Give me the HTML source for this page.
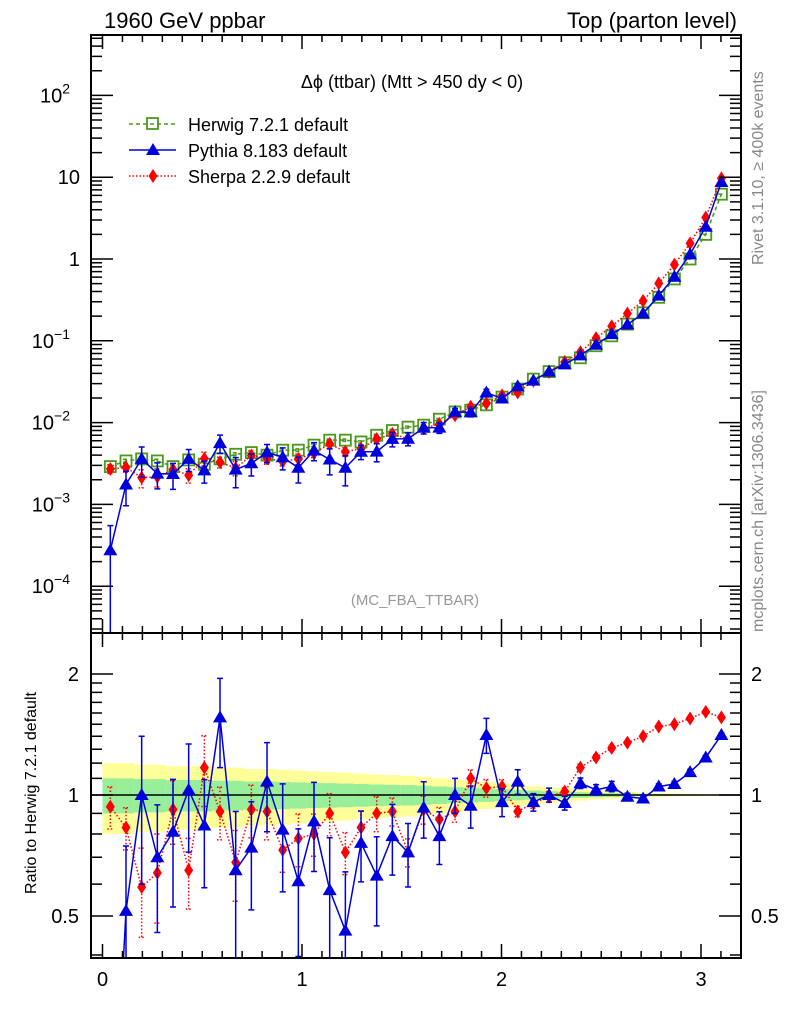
<!DOCTYPE html>
<html><head><meta charset="utf-8"><style>
html,body{margin:0;padding:0;background:#fff;width:786px;height:1024px;overflow:hidden;}
svg{display:block;font-family:"Liberation Sans",Arial,sans-serif;}
</style></head><body>
<svg id="chart" width="786" height="1024" viewBox="0 0 786 1024" xmlns="http://www.w3.org/2000/svg">
<g id="bands"></g>
<g id="marks"></g>
<g id="axes"></g>
<text x="104" y="28" font-size="22">1960 GeV ppbar</text>
<text x="737" y="28" font-size="22" text-anchor="end">Top (parton level)</text>
<text x="412" y="88" font-size="18" text-anchor="middle">Δϕ (ttbar) (Mtt &gt; 450 dy &lt; 0)</text>
<text x="415" y="605" font-size="15" fill="#999" text-anchor="middle">(MC_FBA_TTBAR)</text>
<text font-size="16" fill="#888" transform="translate(763,265) rotate(-90)">Rivet 3.1.10, ≥ 400k events</text>
<text font-size="16" fill="#888" transform="translate(763,632) rotate(-90)">mcplots.cern.ch [arXiv:1306.3436]</text>
<text font-size="16" text-anchor="middle" transform="translate(36,793) rotate(-90)">Ratio to Herwig 7.2.1 default</text>
<g>
 <g>
  <line x1="129" y1="124" x2="176" y2="124" stroke="#4a9a1a" stroke-width="1.5" stroke-dasharray="4,3"/>
  <rect x="147" y="118" width="11" height="11" fill="none" stroke="#4a9a1a" stroke-width="1.8"/>
  <text x="188" y="131" font-size="18">Herwig 7.2.1 default</text>
 </g>
 <g>
  <line x1="129" y1="150" x2="176" y2="150" stroke="#0000dd" stroke-width="1.5"/>
  <polygon points="153,143 160,155 146,155" fill="#0000dd"/>
  <text x="188" y="157" font-size="18">Pythia 8.183 default</text>
 </g>
 <g>
  <line x1="129" y1="176" x2="176" y2="176" stroke="#ff0000" stroke-width="1.5" stroke-dasharray="1.5,2"/>
  <polygon points="153,169 157.5,176 153,183 148.5,176" fill="#ff0000"/>
  <text x="188" y="183" font-size="18">Sherpa 2.2.9 default</text>
 </g>
</g>
</svg>
<script>
const herwig = [0.0029,0.0034,0.0036,0.0034,0.0029,0.0035,0.0031,0.0036,0.0041,0.0043,0.0040,0.0046,0.0046,0.0053,0.0061,0.0061,0.0058,0.0070,0.0080,0.0088,0.0093,0.011,0.0135,0.0142,0.0165,0.0205,0.0257,0.034,0.042,0.054,0.062,0.087,0.115,0.16,0.22,0.34,0.57,1.0,2.0,6.2];
const herwigRelErr = [0.10,0.10,0.095,0.095,0.09,0.09,0.09,0.085,0.085,0.08,0.08,0.078,0.075,0.072,0.07,0.068,0.065,0.062,0.06,0.058,0.055,0.05,0.046,0.042,0.038,0.034,0.03,0.026,0.022,0.019,0.016,0.013,0.011,0.009,0.007,0.005,0.004,0.003,0.002,0.002];
const pythiaRatio = [0.095,0.515,1.0,0.70,0.81,1.03,0.84,1.56,0.65,0.74,1.08,0.82,0.61,0.86,0.58,0.46,0.76,0.63,0.79,0.72,0.93,0.79,1.0,0.94,1.41,0.96,1.08,0.96,1.0,0.955,1.07,1.03,1.05,0.99,0.98,1.05,1.065,1.14,1.24,1.41];
const pythiaRelErr = [1.0,0.45,0.4,0.35,0.35,0.3,0.3,0.25,0.4,0.3,0.25,0.3,0.35,0.25,0.35,0.4,0.2,0.25,0.2,0.18,0.16,0.15,0.1,0.12,0.1,0.08,0.07,0.05,0.04,0.04,0.03,0.03,0.03,0.02,0.02,0.015,0.015,0.015,0.012,0.012];
const sherpaRatio = [0.935,0.83,0.59,0.64,0.92,0.65,1.17,0.91,0.68,0.92,0.91,0.73,0.78,0.80,0.90,0.72,0.83,0.90,0.91,0.72,0.92,0.87,0.91,1.10,1.04,1.05,0.91,0.955,0.99,1.02,1.17,1.24,1.31,1.35,1.40,1.48,1.50,1.55,1.61,1.56];
const sherpaRelErr = [0.12,0.12,0.25,0.25,0.18,0.2,0.2,0.15,0.2,0.15,0.15,0.12,0.15,0.12,0.12,0.12,0.1,0.1,0.08,0.08,0.08,0.07,0.06,0.05,0.05,0.04,0.03,0.03,0.03,0.02,0.02,0.015,0.015,0.01,0.01,0.01,0.01,0.01,0.01,0.01];
const xTickLabels = ["0","1","2","3"];
const mainTickExp = [-4,-3,-2,-1,0,1,2];
const ratioTicks = [0.5,1,2];

const NS="http://www.w3.org/2000/svg";
const FL=91, FR=741, MT=35, MB=633, RB=958;
const nb=herwig.length, bw=Math.PI/nb;
const X=v=>102.5+199.5*v;
const Yraw=v=>259-81.8*Math.log10(v);
const Rraw=v=>795-402*Math.log10(v);
const clamp=(y,a,b)=>Math.min(b,Math.max(a,y));
const Y=v=>clamp(Yraw(v),MT,MB);
const R=v=>clamp(Rraw(v),MB,RB);
function mk(tag,attrs,parent){const e=document.createElementNS(NS,tag);for(const k in attrs)e.setAttribute(k,attrs[k]);parent.appendChild(e);return e;}
const bands=document.getElementById('bands'), marks=document.getElementById('marks'), axes=document.getElementById('axes');
const svg=document.getElementById('chart');
const defs=mk('defs',{},svg);
const c1=mk('clipPath',{id:'cm'},defs); mk('rect',{x:FL,y:MT,width:FR-FL,height:MB-MT},c1);
const c2=mk('clipPath',{id:'cr'},defs); mk('rect',{x:FL,y:MB,width:FR-FL,height:RB-MB},c2);
for(let i=0;i<nb;i++){
  const x0=X(i*bw), x1=X((i+1)*bw), e=herwigRelErr[i];
  const y=mk('rect',{x:x0,y:R(1+2*e),width:x1-x0+0.5,height:R(1-2*e)-R(1+2*e),fill:'#ffff99'},bands);
  
  
  const g=mk('rect',{x:x0,y:R(1+e),width:x1-x0+0.5,height:R(1-e)-R(1+e),fill:'#99ee99'},bands);
  
  
}
mk('line',{x1:FL,y1:R(1),x2:FR,y2:R(1),stroke:'#000','stroke-width':1.5},bands);
const gm=mk('g',{'clip-path':'url(#cm)'},marks);
const gr=mk('g',{'clip-path':'url(#cr)'},marks);
function series(vals,errs,color,dash,shape,name,g,yraw,lo0,hi0){
  const yf=v=>clamp(yraw(v),lo0,hi0);
  const raw=vals.map((v,i)=>[X((i+0.5)*bw),yraw(v)]);
  // build line, cutting segments at panel edges
  let pts=[];
  for(let i=0;i<raw.length;i++){
    const [x,y]=raw[i];
    if(i>0){
      const [px,py]=raw[i-1];
      [lo0,hi0].forEach(edge=>{
        if((py-edge)*(y-edge)<0){const t=(edge-py)/(y-py);pts.push([px+t*(x-px),edge]);}
      });
    }
    pts.push([x,clamp(y,lo0,hi0)]);
  }
  const pl=mk('polyline',{points:pts.map(p=>p.join(',')).join(' '),fill:'none',stroke:color,'stroke-width':1.5},g);
  if(dash)pl.setAttribute('stroke-dasharray',dash);
  
  
  vals.forEach((v,i)=>{
    const x=raw[i][0], yr=raw[i][1];
    if(errs){
      const lo=Math.max(v*(1-errs[i]),1e-9), hi=v*(1+errs[i]);
      const eb=mk('path',{d:`M${x},${yf(hi)}V${yf(lo)}M${x-3},${yf(hi)}H${x+3}M${x-3},${yf(lo)}H${x+3}`,stroke:color,'stroke-width':1.5,fill:'none'},g);
      if(dash)eb.setAttribute('stroke-dasharray',dash);
      
      
    }
    if(yr<lo0||yr>hi0)return;
    const y=yr;
    let m;
    if(shape==='sq') m=mk('rect',{x:x-5.5,y:y-5.5,width:11,height:11,fill:'none',stroke:color,'stroke-width':1.8},g);
    else if(shape==='tri') m=mk('polygon',{points:`${x},${y-7} ${x+7},${y+5} ${x-7},${y+5}`,fill:color},g);
    else m=mk('polygon',{points:`${x},${y-7} ${x+4.5},${y} ${x},${y+7} ${x-4.5},${y}`,fill:color},g);
    
    
  });
}
const pythia=herwig.map((h,i)=>h*pythiaRatio[i]);
const sherpa=herwig.map((h,i)=>h*sherpaRatio[i]);
const hErr=herwigRelErr.map(e=>e*0.5);
series(herwig,hErr,'#4a9a1a','4,3','sq','herwig',gm,Yraw,MT,MB);
series(sherpa,sherpaRelErr,'#ff0000','1.5,2','dia','sherpa',gm,Yraw,MT,MB);
series(pythia,pythiaRelErr,'#0000dd',null,'tri','pythia',gm,Yraw,MT,MB);
series(sherpaRatio,sherpaRelErr,'#ff0000','1.5,2','dia','sherpa-ratio',gr,Rraw,MB,RB);
series(pythiaRatio,pythiaRelErr,'#0000dd',null,'tri','pythia-ratio',gr,Rraw,MB,RB);
const f1=mk('rect',{x:FL,y:MT,width:FR-FL,height:MB-MT,fill:'none',stroke:'#000','stroke-width':2},axes);


const f2=mk('rect',{x:FL,y:MB,width:FR-FL,height:RB-MB,fill:'none',stroke:'#000','stroke-width':2},axes);


let d='';
for(let k=0;k<=32;k++){
  const v=k/10, x=X(v); if(x>FR)break;
  const L=(k%10===0)?14:7;
  d+=`M${x},${RB}v${-L}M${x},${MB}v${L}M${x},${MB}v${-L}M${x},${MT}v${L}`;
}
for(let e=-5;e<=2;e++){
  for(let m=1;m<=9;m++){
    const y=Yraw(m*Math.pow(10,e)); if(y<MT||y>MB)continue;
    const L=m===1?22:11;
    d+=`M${FL},${y}h${L}M${FR},${y}h${-L}`;
  }
}
[0.4,0.5,0.6,0.7,0.8,0.9,1,2].forEach(v=>{const y=R(v);const L=(v===0.5||v===1||v===2)?22:11;d+=`M${FL},${y}h${L}M${FR},${y}h${-L}`;});
[1.1,1.2,1.3,1.4,1.5,1.6,1.7,1.8,1.9].forEach(v=>{const y=R(v);d+=`M${FL},${y}h11M${FR},${y}h-11`;});
mk('path',{d:d,stroke:'#000','stroke-width':1.5,fill:'none'},axes);
xTickLabels.forEach((t,i)=>{
  const e=mk('text',{x:X(i),y:986,'font-size':20,'text-anchor':'middle'},axes);e.textContent=t;
  
  
});
mainTickExp.forEach(ex=>{
  const y=Yraw(Math.pow(10,ex));
  const e=mk('text',{x:80,y:y+7,'font-size':20,'text-anchor':'end'},axes);
  if(ex===0)e.textContent='1';
  else if(ex===1)e.textContent='10';
  else{
    e.textContent='10';
    const s=mk('tspan',{dy:-9,'font-size':14},e);
    s.textContent=ex<0?('−'+(-ex)):String(ex);
    e.setAttribute('x',70);
  }
  
  
});
ratioTicks.forEach(v=>{
  const y=R(v);
  const a=mk('text',{x:79,y:y+7,'font-size':20,'text-anchor':'end'},axes);a.textContent=String(v);
  
  
  const b=mk('text',{x:751,y:y+7,'font-size':20},axes);b.textContent=String(v);
  
  
});
</script>
</body></html>
